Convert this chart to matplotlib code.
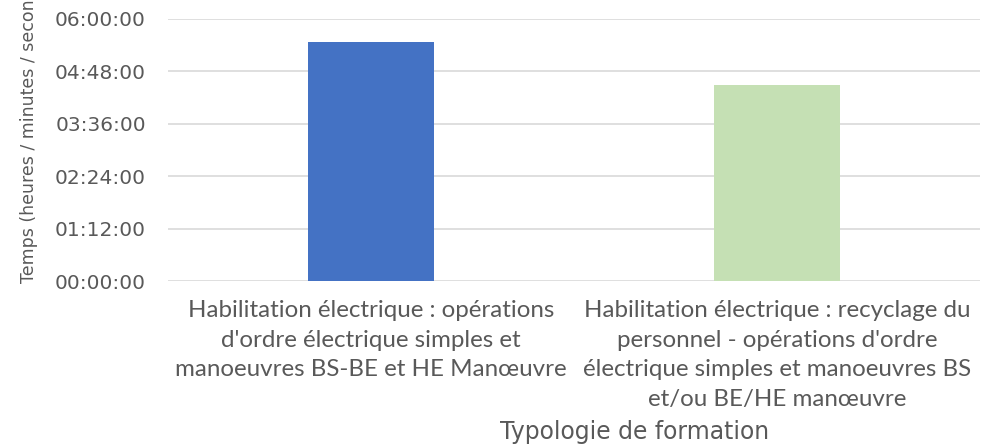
import matplotlib
matplotlib.use("Agg")
import matplotlib.pyplot as plt
from matplotlib.ticker import FixedLocator, FuncFormatter

categories = [
    "Habilitation électrique : opérations\nd'ordre électrique simples et\nmanoeuvres BS-BE et HE Manœuvre",
    "Habilitation électrique : recyclage du\npersonnel - opérations d'ordre\nélectrique simples et manoeuvres BS\net/ou BE/HE manœuvre",
]
durations_min = [329, 269]
bar_colors = ["#4472C4", "#C5E0B4"]
y_ticks_min = [0, 72, 144, 216, 288, 360]
y_label = "Temps (heures / minutes / secon"
x_label = "Typologie de formation"

text_color = "#595959"
fig = plt.figure(figsize=(9.83, 4.48), dpi=100)
ax = fig.add_axes([168/983, 1 - 281/448, (980-168)/983, (281-19)/448])

x = list(range(len(categories)))
ax.bar(x, durations_min, width=0.31, color=bar_colors, zorder=3)
ax.set_xlim(-0.5, len(categories) - 0.5)
ax.set_ylim(0, 360)
ax.yaxis.set_major_locator(FixedLocator(y_ticks_min))
ax.yaxis.set_major_formatter(FuncFormatter(lambda v, p: "%02d:%02d:00" % (int(v) // 60, int(v) % 60)))
ax.grid(axis="y", color="#D9D9D9", linewidth=1.2, zorder=0)
for s in ax.spines.values():
    s.set_visible(False)
ax.tick_params(axis="both", length=0)
ax.tick_params(axis="y", pad=16, labelsize=14.5, labelcolor=text_color)
for t in ax.get_yticklabels():
    t.set_family("DejaVu Sans")
ax.set_xticks(x)
ax.set_xticklabels(categories, family="Lato", fontsize=16, color=text_color, linespacing=1.5)
ax.tick_params(axis="x", pad=14)

ylab = fig.text(29/983, 1 - 283/448, y_label, rotation=90, ha="center", va="bottom",
                family="DejaVu Sans", fontsize=13, color=text_color)
xlab = fig.text(635/983, 1 - 432/448, x_label, ha="center", va="center",
                family="DejaVu Sans", fontsize=15, color=text_color)

# fit font sizes to the widths seen in the reference
fig.canvas.draw()
r = fig.canvas.get_renderer()

line1 = categories[0].split("\n")[0]
tmp = fig.text(0, 0, line1, family="Lato", fontsize=16)
w = tmp.get_window_extent(r).width
tmp.remove()
fs = 16 * 368 / w
for t in ax.get_xticklabels():
    t.set_fontsize(fs)
w = xlab.get_window_extent(r).width
xlab.set_fontsize(15 * 270 / w)
h = ylab.get_window_extent(r).height
ylab.set_fontsize(13 * 281 / h)

fig.savefig("out.png", dpi=100)
